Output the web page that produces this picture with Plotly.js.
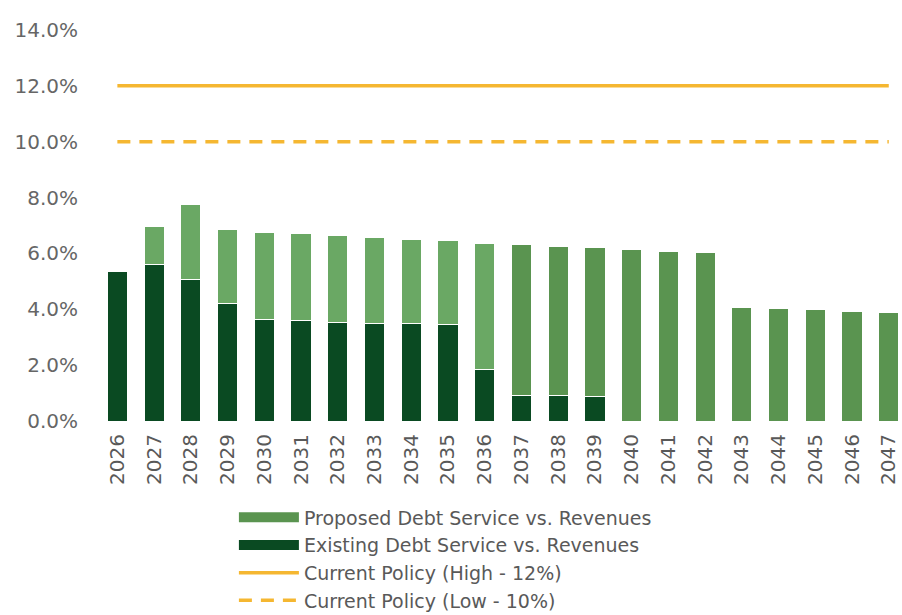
<!DOCTYPE html>
<html>
<head>
<meta charset="utf-8">
<script src="https://cdn.plot.ly/plotly-3.0.1.min.js"></script>
<style>html,body{margin:0;padding:0;background:#fff;}#chart{width:902px;height:615px;}</style>
</head>
<body>
<div id="chart"></div>
<script>
const years = ['2026','2027','2028','2029','2030','2031','2032','2033','2034','2035','2036',
               '2037','2038','2039','2040','2041','2042','2043','2044','2045','2046','2047'];
const existingDebt = [5.37,5.59,5.05,4.20,3.63,3.59,3.52,3.50,3.48,3.45,1.85,
                      0.93,0.90,0.89,0,0,0,0,0,0,0,0];
const proposedDebt = [0,1.38,2.71,2.67,3.13,3.14,3.13,3.08,3.03,3.03,4.52,
                      5.40,5.36,5.31,6.15,6.08,6.02,4.06,4.02,3.98,3.92,3.88];
const policyHigh = [12,12,12,12,12,12,12,12,12,12,12,12,12,12,12,12,12,12,12,12,12,12];
const policyLow  = [10,10,10,10,10,10,10,10,10,10,10,10,10,10,10,10,10,10,10,10,10,10];
const yTicks = [0,2,4,6,8,10,12,14];

const darkGreen = '#0a4a22';
const lightGreen = '#6aa864';
const midGreen = '#5a9450';
const gold = '#f5b731';
const proposedColors = years.map((y,i) => i <= 10 ? lightGreen : midGreen);
const FONT = 'DejaVu Sans, Liberation Sans, sans-serif';

const traces = [
  {type:'bar', x:years, y:existingDebt, name:'Existing Debt Service vs. Revenues',
   marker:{color:darkGreen, line:{color:'#ffffff', width:1}}, showlegend:false, hoverinfo:'y'},
  {type:'bar', x:years, y:proposedDebt, name:'Proposed Debt Service vs. Revenues',
   marker:{color:proposedColors, line:{color:'#ffffff', width:1}}, showlegend:false, hoverinfo:'y'},
  {type:'scatter', mode:'lines', x:years, y:policyHigh, name:'Current Policy (High - 12%)',
   line:{color:gold, width:3.5}, showlegend:false},
  {type:'scatter', mode:'lines', x:years, y:policyLow, name:'Current Policy (Low - 10%)',
   line:{color:gold, width:3.5, dash:'13px,9px'}, showlegend:false},
  // legend entries
  {type:'scatter', mode:'lines', x:[null], y:[null], name:'Proposed Debt Service vs. Revenues',
   line:{color:midGreen, width:10}},
  {type:'scatter', mode:'lines', x:[null], y:[null], name:'Existing Debt Service vs. Revenues',
   line:{color:darkGreen, width:10}},
  {type:'scatter', mode:'lines', x:[null], y:[null], name:'Current Policy (High - 12%)',
   line:{color:gold, width:3.5}},
  {type:'scatter', mode:'lines', x:[null], y:[null], name:'Current Policy (Low - 10%)',
   line:{color:gold, width:3.5, dash:'13px,9px'}}
];

const layout = {
  width:902, height:615,
  margin:{l:99, r:0, t:30, b:194, autoexpand:false},
  paper_bgcolor:'#ffffff', plot_bgcolor:'#ffffff',
  barmode:'stack', bargap:0.45,
  font:{family:FONT, color:'#595959'},
  xaxis:{type:'category', range:[-0.5, 21.36], tickangle:-90, showgrid:false, zeroline:false,
         showline:false, ticks:'', ticklabelstandoff:8, tickfont:{size:20, color:'#595959'},
         fixedrange:true, automargin:false},
  yaxis:{range:[0,14], tickvals:yTicks, ticktext:yTicks.map(v=>v.toFixed(1)+'%'),
         showgrid:false, zeroline:false, showline:false, ticks:'', ticklabelstandoff:20,
         tickfont:{size:20, color:'#666666'}, fixedrange:true, automargin:false},
  showlegend:true,
  legend:{x:0.168, y:-0.198, xanchor:'left', yanchor:'top',
          traceorder:'normal', itemwidth:60, tracegroupgap:0,
          font:{size:19, color:'#595959'}, bgcolor:'rgba(0,0,0,0)'}
};

Plotly.newPlot('chart', traces, layout, {displayModeBar:false, staticPlot:true});
</script>
</body>
</html>
